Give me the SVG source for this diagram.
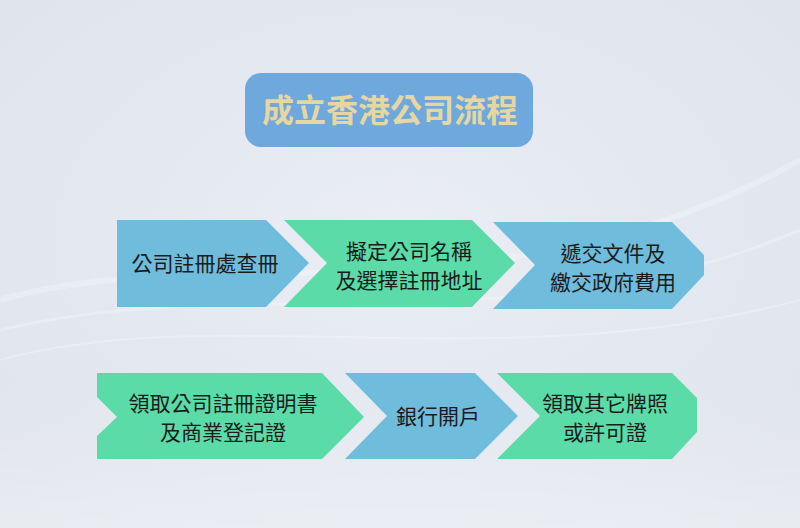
<svg xmlns="http://www.w3.org/2000/svg" width="800" height="528" viewBox="0 0 800 528">
  <defs>
    <radialGradient id="bg" cx="0.5" cy="0.45" r="0.7">
      <stop offset="0" stop-color="#eaedf4"/>
      <stop offset="0.6" stop-color="#e3e7ef"/>
      <stop offset="1" stop-color="#dfe3ea"/>
    </radialGradient>
    <linearGradient id="glow" x1="0" y1="0" x2="0" y2="1">
      <stop offset="0" stop-color="#ffffff" stop-opacity="0"/>
      <stop offset="1" stop-color="#ffffff" stop-opacity="0.3"/>
    </linearGradient>
    <style>
      .blue { fill: #70bcdc; }
      .green { fill: #5adba8; }
      .lbl { font-family: "Noto Sans CJK TC", "Noto Sans CJK SC", sans-serif; font-size: 21px; fill: #1b1b1b; text-anchor: middle; }
      .title { font-family: "Noto Sans CJK TC", "Noto Sans CJK SC", sans-serif; font-size: 32px; font-weight: bold; fill: #e6d6a2; text-anchor: middle; }
      .streak { fill: none; stroke: #ffffff; stroke-opacity: 0.25; }
    </style>
  </defs>
  <rect width="800" height="528" fill="url(#bg)"/>
  <rect y="380" width="800" height="148" fill="url(#glow)"/>
  <path class="streak" stroke-width="6" d="M0 300 C 200 240, 500 330, 800 160"/>
  <path class="streak" stroke-width="3" d="M0 330 C 250 270, 520 350, 800 230"/>
  <path class="streak" stroke-width="2" d="M0 360 C 220 300, 500 380, 800 300"/>

  <g id="title">
    <rect x="245" y="73" width="288" height="74" rx="16" fill="#6fa8dc"/>
    <text class="title" x="390" y="122">成立香港公司流程</text>
  </g>

  <g id="connectors"></g>

  <g id="step1">
    <polygon class="blue" points="117,220 266,220 309,263 266,307 117,307"/>
    <text class="lbl" x="205" y="271">公司註冊處查冊</text>
  </g>
  <g id="step2">
    <polygon class="green" points="284,220 472,220 515,263 472,307 284,307 327,263"/>
    <text class="lbl" x="409" y="259">擬定公司名稱</text>
    <text class="lbl" x="409" y="288">及選擇註冊地址</text>
  </g>
  <g id="step3">
    <polygon class="blue" points="493,222 672,222 704,255 704,275 672,309 493,309 535,265"/>
    <text class="lbl" x="613" y="261">遞交文件及</text>
    <text class="lbl" x="613" y="290">繳交政府費用</text>
  </g>

  <g id="step4">
    <polygon class="green" points="97,373 322,373 364,417 322,459 97,459 97,436 117,417 97,397"/>
    <text class="lbl" x="223" y="411">領取公司註冊證明書</text>
    <text class="lbl" x="223" y="440">及商業登記證</text>
  </g>
  <g id="step5">
    <polygon class="blue" points="345,373 475,373 518,416 475,459 345,459 387,416"/>
    <text class="lbl" x="438" y="424">銀行開戶</text>
  </g>
  <g id="step6">
    <polygon class="green" points="497,373 672,373 697,398 697,432 672,459 497,459 540,416"/>
    <text class="lbl" x="605" y="411">領取其它牌照</text>
    <text class="lbl" x="605" y="440">或許可證</text>
  </g>
</svg>
